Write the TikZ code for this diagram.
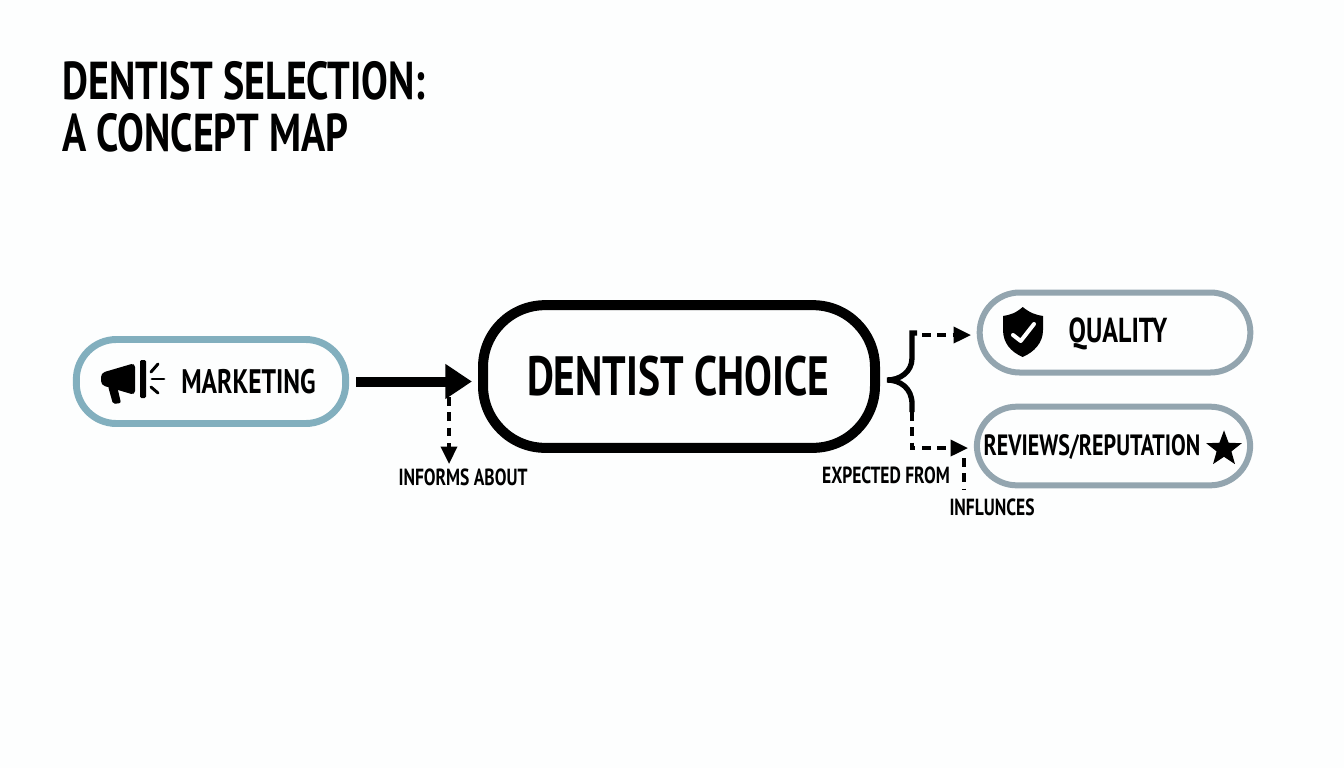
\documentclass[tikz,border=0pt]{standalone}
\usepackage{fontspec}
\setmainfont{PT Sans}[FakeStretch=0.75]
\usetikzlibrary{arrows.meta,shapes.geometric}
\definecolor{pagewhite}{HTML}{FDFEFE}
\definecolor{tealgrey}{HTML}{82AFBE}
\definecolor{slategrey}{HTML}{93A5AF}
\tikzset{
    pill/.style={draw, line width=#1, rounded corners=40*0.75pt, align=center},
    bigpill/.style={draw=black, line width=7.5pt, rounded corners=62*0.75pt, minimum width=294pt, minimum height=107pt},
    tag/.style={font=\bfseries\fontsize{17.5}{20}\selectfont, inner sep=0pt},
    dash line/.style={line width=2.6pt, dash pattern=on 6.5pt off 5pt},
    small head/.style={-{Triangle[length=13pt, width=12pt]}},
}
\begin{document}
\begin{tikzpicture}[x=0.75pt, y=-0.75pt]
    \path[use as bounding box, fill=pagewhite] (0, 0) rectangle (1344, 768);

    \node (title) at (62, 107) [anchor=west, align=left, inner sep=0pt, font=\bfseries\fontsize{40}{39}\selectfont] {DENTIST SELECTION:\\A CONCEPT MAP};

    \node (marketing) at (211, 381.5) [pill=5.2pt, draw=tealgrey, minimum width=202pt, minimum height=63pt] {};
    \node (choice) at (679, 376.5) [bigpill] {};
    \node (quality) at (1115, 332.5) [pill=4.5pt, draw=slategrey, minimum width=203pt, minimum height=60pt] {};
    \node (reviews) at (1113.5, 446) [pill=4.5pt, draw=slategrey, minimum width=205pt, minimum height=59pt] {};

    \node (marketingtext) at (248.5, 382) [inner sep=0pt, font=\bfseries\fontsize{25.5}{27}\selectfont] {MARKETING};
    \node (choicetext) at (678, 376) [inner sep=0pt, font=\bfseries\fontsize{41.5}{44}\selectfont] {DENTIST CHOICE};
    \node (qualitytext) at (1118, 334) [inner sep=0pt, font=\bfseries\fontsize{26}{28}\selectfont] {QUALITY};
    \node (reviewstext) at (1092, 447) [inner sep=0pt, font=\bfseries\fontsize{22}{24}\selectfont] {REVIEWS/REPUTATION};
    \node (star) at (1224, 449) [star, star points=5, star point ratio=2.4, fill=black, inner sep=0pt, minimum size=28pt] {};

    \fill[rounded corners=3pt] (101, 373) -- (135, 363) -- (135, 395) -- (101, 385) -- cycle;
    \fill[rounded corners=1.5pt] (108, 386) -- (117, 386) -- (121, 403) -- (113, 404) -- cycle;
    \fill[rounded corners=1pt] (140, 360) rectangle (146, 398);
    \draw[line width=2.2pt, line cap=round] (151, 372) -- (158, 364);
    \draw[line width=2.2pt, line cap=round] (152, 379) -- (164, 379);
    \draw[line width=2.2pt, line cap=round] (151, 387) -- (158, 393);

    \fill (1022.7, 307) .. controls (1030, 313) and (1036, 315) .. (1043, 316) -- (1043, 330) .. controls (1043, 343) and (1034, 352) .. (1022.7, 357) .. controls (1011, 352) and (1003, 343) .. (1003, 330) -- (1003, 316) .. controls (1010, 315) and (1016, 313) .. (1022.7, 307) -- cycle;
    \draw[white, line width=3pt, line cap=round, line join=round] (1013, 335) -- (1020.7, 341) -- (1034, 324);

    \node (informs) at (463, 477) [tag] {INFORMS ABOUT};
    \node (expected) at (886, 475) [tag] {EXPECTED FROM};
    \node (influnces) at (992, 507) [tag] {INFLUNCES};

    \coordinate (bracetop) at (912, 333);
    \coordinate (bracebottom) at (912, 412);
    \coordinate (bracetip) at (887, 380);
    \coordinate (corner) at (912, 448);
    \coordinate (informsstart) at (449, 397);
    \coordinate (informsend) at (449, 464);
    \coordinate (influncestop) at (964, 458);
    \coordinate (influncesend) at (964, 490);
    \coordinate (qualitystart) at (922, 335);

    \draw[line width=7.5pt, -{Triangle[length=20pt, width=25pt]}, shorten <=7*0.75pt, shorten >=6*0.75pt] (marketing.east) -- (choice.west |- marketing.east);
    \draw[line width=4pt] (917, 333) -- (bracetop) -- (912, 358) .. controls (912, 372) and (900, 380) .. (bracetip) .. controls (900, 380) and (912, 388) .. (912, 404) -- (bracebottom);

    \draw[dash line, small head] (informsstart) -- (informsend);
    \draw[dash line, small head] (qualitystart) -- (971, 335);
    \draw[dash line, small head] (bracebottom) -- (corner) -- (968, 448);
    \draw[dash line] (influncestop) -- (influncesend);
\end{tikzpicture}
\end{document}
